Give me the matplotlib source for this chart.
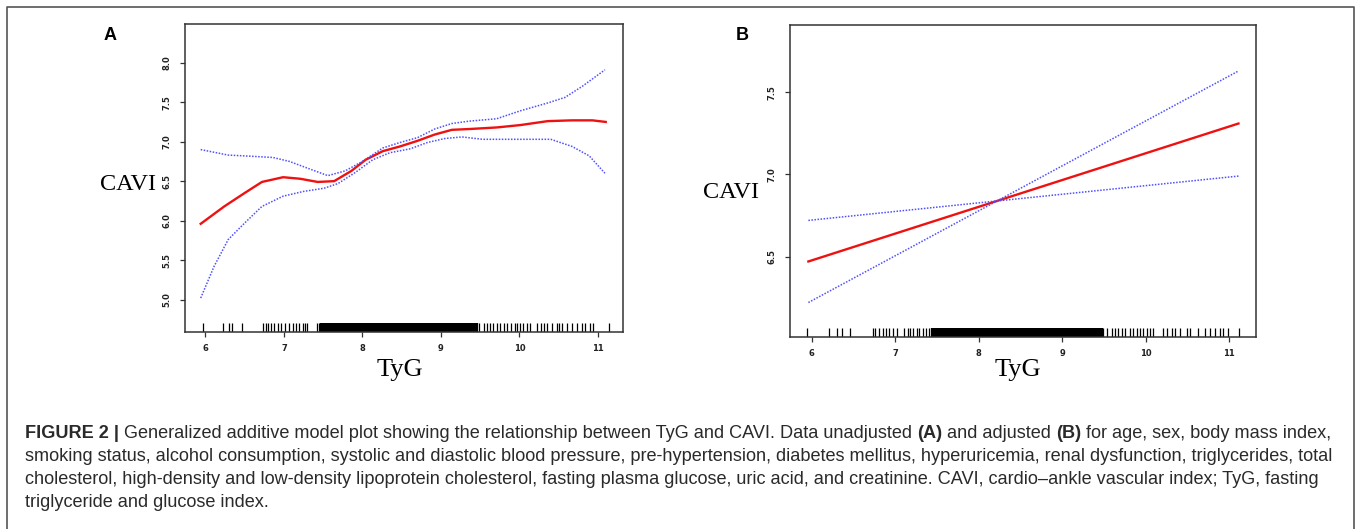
import re
import matplotlib
matplotlib.use("Agg")
import matplotlib.pyplot as plt
from matplotlib.lines import Line2D

W, H = 1357, 529

# ---- panel A: unadjusted GAM fit ----
a_fit_x = [5.94, 6.24, 6.5, 6.72, 6.99, 7.21, 7.43, 7.64, 7.86, 8.04, 8.26, 8.48,
           8.70, 8.92, 9.14, 9.36, 9.71, 10.01, 10.36, 10.67, 10.93, 11.1]
a_fit_y = [5.96, 6.18, 6.35, 6.49, 6.55, 6.53, 6.49, 6.50, 6.63, 6.77, 6.88, 6.94,
           7.01, 7.09, 7.15, 7.16, 7.18, 7.21, 7.26, 7.27, 7.27, 7.25]
a_up_x = [5.94, 6.29, 6.5, 6.86, 7.07, 7.34, 7.56, 7.78, 8.0, 8.26, 8.48, 8.70,
          8.92, 9.14, 9.36, 9.71, 10.01, 10.36, 10.58, 10.80, 11.09]
a_up_y = [6.90, 6.83, 6.82, 6.80, 6.75, 6.65, 6.57, 6.63, 6.75, 6.92, 6.99, 7.05,
          7.16, 7.23, 7.26, 7.29, 7.39, 7.49, 7.56, 7.70, 7.91]
a_lo_x = [5.94, 6.11, 6.29, 6.5, 6.72, 6.99, 7.25, 7.51, 7.69, 7.91, 8.13, 8.35,
          8.61, 8.83, 9.05, 9.27, 9.53, 10.01, 10.40, 10.67, 10.89, 11.09]
a_lo_y = [5.02, 5.42, 5.76, 5.97, 6.18, 6.31, 6.37, 6.41, 6.47, 6.61, 6.77, 6.86,
          6.91, 6.99, 7.04, 7.06, 7.03, 7.03, 7.03, 6.94, 6.82, 6.60]

# ---- panel B: adjusted (linear) fit ----
b_x = [5.96, 11.11]
b_fit_y = [6.47, 7.31]
b_up_y = [6.22, 7.63]
b_lo_y = [6.72, 6.99]

# ---- rug (observed TyG values) ----
rug_a = [5.97, 6.23, 6.30, 6.34, 6.47, 6.74, 6.77, 6.80, 6.83, 6.88, 6.92, 6.96,
         7.02, 7.07, 7.11, 7.15, 7.19, 7.24, 7.27, 7.30, 7.42, 7.45,
         9.48, 9.55, 9.59, 9.63, 9.67, 9.71, 9.75, 9.80, 9.84, 9.89, 9.94, 9.97,
         10.01, 10.05, 10.10, 10.14, 10.23, 10.27, 10.31, 10.35, 10.42, 10.48,
         10.50, 10.54, 10.61, 10.67, 10.74, 10.80, 10.84, 10.90, 10.94, 11.14]
rug_a_dense = [7.50, 7.55, 7.60, 7.65, 7.70, 7.75, 7.80, 7.85, 7.90, 7.95, 8.00,
               8.05, 8.10, 8.15, 8.20, 8.25, 8.30, 8.35, 8.40, 8.45, 8.50, 8.55,
               8.60, 8.65, 8.70, 8.75, 8.80, 8.85, 8.90, 8.95, 9.00, 9.05, 9.10,
               9.15, 9.20, 9.25, 9.30, 9.35, 9.40, 9.44]
rug_b = [5.94, 6.21, 6.30, 6.36, 6.46, 6.73, 6.76, 6.81, 6.85, 6.89, 6.93, 6.97,
         7.02, 7.10, 7.15, 7.18, 7.21, 7.26, 7.29, 7.33, 7.37, 7.41, 7.44,
         9.49, 9.53, 9.59, 9.63, 9.67, 9.71, 9.75, 9.81, 9.85, 9.89, 9.93, 9.97,
         10.01, 10.05, 10.09, 10.21, 10.25, 10.31, 10.35, 10.41, 10.49, 10.53,
         10.63, 10.71, 10.77, 10.83, 10.89, 10.93, 10.99, 11.12]
rug_b_dense = [7.47, 7.52, 7.57, 7.62, 7.67, 7.72, 7.77, 7.82, 7.87, 7.92, 7.97,
               8.02, 8.07, 8.12, 8.17, 8.22, 8.27, 8.32, 8.37, 8.42, 8.47, 8.52,
               8.57, 8.62, 8.67, 8.72, 8.77, 8.82, 8.87, 8.92, 8.97, 9.02, 9.07,
               9.12, 9.17, 9.22, 9.27, 9.32, 9.37, 9.42, 9.45]

x_ticks = [6, 7, 8, 9, 10, 11]
a_y_ticks = [5.0, 5.5, 6.0, 6.5, 7.0, 7.5, 8.0]
b_y_ticks = [6.5, 7.0, 7.5]

caption_lines = [
    "**FIGURE 2 |** Generalized additive model plot showing the relationship between TyG and CAVI. "
    "Data unadjusted **(A)** and adjusted **(B)** for age, sex, body mass index,",
    "smoking status, alcohol consumption, systolic and diastolic blood pressure, pre-hypertension, "
    "diabetes mellitus, hyperuricemia, renal dysfunction, triglycerides, total",
    "cholesterol, high-density and low-density lipoprotein cholesterol, fasting plasma glucose, "
    "uric acid, and creatinine. CAVI, cardio\u2013ankle vascular index; TyG, fasting",
    "triglyceride and glucose index.",
]

RED = "#ee1111"
BLUE = "#5050ff"
AX = "#333333"


def px_rect(left, top, right, bottom):
    return [left / W, 1 - bottom / H, (right - left) / W, (bottom - top) / H]


def style_axes(ax, yticks, ylim):
    ax.set_xlim(5.74, 11.32)
    ax.set_ylim(*ylim)
    for s in ax.spines.values():
        s.set_color(AX)
        s.set_linewidth(1.1)
    ax.set_xticks(x_ticks)
    ax.set_xticklabels([str(t) for t in x_ticks])
    ax.set_yticks(yticks)
    ax.set_yticklabels([f"{t:.1f}" for t in yticks], rotation=90, va="center")
    ax.tick_params(axis="both", length=3.5, width=0.9, color=AX, labelsize=6,
                   labelcolor="#222222")
    ax.tick_params(axis="x", pad=5)
    ax.tick_params(axis="y", pad=6)
    for lab in ax.get_xticklabels() + ax.get_yticklabels():
        lab.set_fontweight("bold")


def draw_rug(ax, sparse, dense):
    tr = ax.get_xaxis_transform()
    ax.vlines(sparse, 0, 0.03, transform=tr, color="black", lw=0.9)
    ax.vlines(dense, 0, 0.03, transform=tr, color="black", lw=4.5)


fig = plt.figure(figsize=(W / 100, H / 100), dpi=100)

# panel A
ax_a = fig.add_axes(px_rect(185, 24, 623, 332))
ax_a.plot(a_fit_x, a_fit_y, color=RED, lw=1.7)
ax_a.plot(a_up_x, a_up_y, color=BLUE, lw=1.1, ls=(0, (1, 1)))
ax_a.plot(a_lo_x, a_lo_y, color=BLUE, lw=1.1, ls=(0, (1, 1)))
draw_rug(ax_a, rug_a, rug_a_dense)
style_axes(ax_a, a_y_ticks, (4.59, 8.49))

# panel B
ax_b = fig.add_axes(px_rect(790, 25, 1256, 337))
ax_b.plot(b_x, b_fit_y, color=RED, lw=1.7)
ax_b.plot(b_x, b_up_y, color=BLUE, lw=1.1, ls=(0, (1, 1)))
ax_b.plot(b_x, b_lo_y, color=BLUE, lw=1.1, ls=(0, (1, 1)))
draw_rug(ax_b, rug_b, rug_b_dense)
style_axes(ax_b, b_y_ticks, (6.01, 7.91))

# axis titles (serif, as in the R output)
serif = "Liberation Serif"
fig.text(128 / W, 1 - 184 / H, "CAVI", family=serif, fontsize=17.5, ha="center", va="center")
fig.text(400 / W, 1 - 370 / H, "TyG", family=serif, fontsize=19, ha="center", va="center")
fig.text(731 / W, 1 - 192 / H, "CAVI", family=serif, fontsize=17.5, ha="center", va="center")
fig.text(1018 / W, 1 - 370 / H, "TyG", family=serif, fontsize=19, ha="center", va="center")

# panel letters
fig.text(110 / W, 1 - 35 / H, "A", family="Liberation Sans", fontweight="bold",
         fontsize=13, ha="center", va="center")
fig.text(742 / W, 1 - 35 / H, "B", family="Liberation Sans", fontweight="bold",
         fontsize=13, ha="center", va="center")

# outer frame (open at the bottom, as cropped)
fig.add_artist(Line2D([7 / W, 7 / W, 1354 / W, 1354 / W], [0, 1 - 7 / H, 1 - 7 / H, 0],
                      transform=fig.transFigure, color="#555555", lw=1.2))

# caption with bold pieces
renderer = fig.canvas.get_renderer()


def text_width(s, weight, size):
    t1 = fig.text(0, 0, "|" + s + "|", fontsize=size, fontweight=weight, family="Liberation Sans")
    t2 = fig.text(0, 0, "||", fontsize=size, fontweight=weight, family="Liberation Sans")
    w = t1.get_window_extent(renderer).width - t2.get_window_extent(renderer).width
    t1.remove()
    t2.remove()
    return w


cap_size = 13.1
line_y = [438, 461, 484, 507]
for line, y in zip(caption_lines, line_y):
    x = 25
    for seg in re.split(r"(\*\*.*?\*\*)", line):
        if not seg:
            continue
        bold = seg.startswith("**")
        s = seg.strip("*") if bold else seg
        weight = "bold" if bold else "normal"
        fig.text(x / W, 1 - y / H, s, fontsize=cap_size, fontweight=weight,
                 family="Liberation Sans", color="#2a2a2a", ha="left", va="baseline")
        x += text_width(s, weight, cap_size)

fig.savefig("out.png", dpi=100)
